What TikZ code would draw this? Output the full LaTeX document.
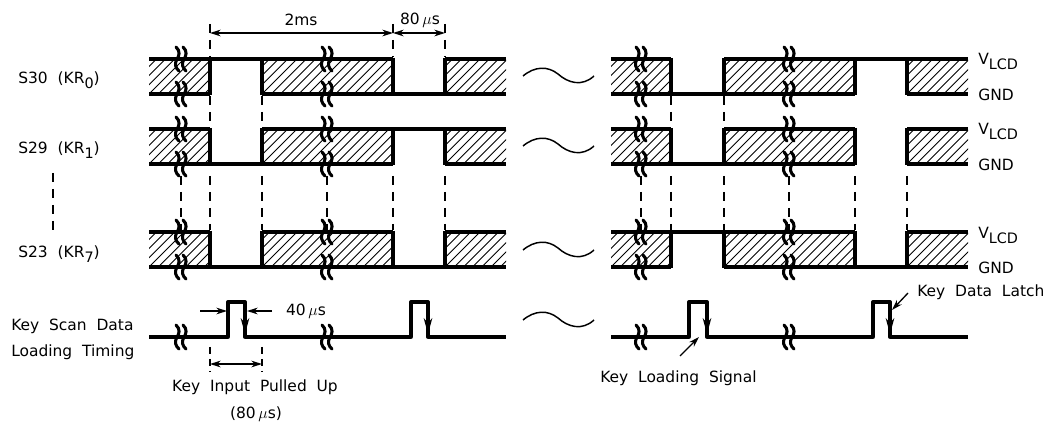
\documentclass[tikz,border=0pt]{standalone}
\usepackage{fontspec}
\setmainfont{DejaVu Sans}
\usetikzlibrary{arrows.meta}
\tikzset{
  x=0.75pt,y=-0.75pt,
  sig/.style={line width=2.5pt,line cap=butt,line join=miter},
  vert/.style={line width=2.3pt},
  dsh/.style={line width=1.1pt,dash pattern=on 6.5pt off 5.5pt},
  dim/.style={line width=1pt,{Stealth[length=8pt,width=5pt]}-{Stealth[length=8pt,width=5pt]}},
  lead/.style={line width=1pt,-{Stealth[length=8pt,width=5pt]}},
  lab/.style={inner sep=0pt,font=\fontsize{11.6}{13}\selectfont},
  brk/.style={line width=2.3pt,line cap=round},
}
% hatch between x1,x2 in a row with top y3
\newcommand{\hatchbox}[3]{%
  \begin{scope}
    \clip (#1,#3) rectangle (#2,#3+35);
    \foreach \k in {-8,...,18} {\draw[line width=0.65pt] ({#1+\k*9.2},#3+35) -- ++(35,-35);}
  \end{scope}}
\newcommand{\brkmark}[2]{%
  \foreach \d in {-3.5,3.5}{
  \draw[brk] ({#1+\d-1.5},#2-12) .. controls ({#1+\d+3},#2-8) and ({#1+\d+2},#2-3) .. ({#1+\d-1},#2+1)
     .. controls ({#1+\d-3},#2+5) and ({#1+\d-2},#2+9) .. ({#1+\d+1.5},#2+12);}}
\newcommand{\tildemark}[1]{%
  \draw[line width=1.1pt] (523,#1) .. controls (535,#1-10) and (548,#1-10) .. (558,#1-2)
     .. controls (568,#1+7) and (582,#1+11) .. (594,#1);}
\newcommand{\mus}{\ensuremath{\mu}s}
\newcommand{\lowsub}[1]{\raisebox{-0.32em}{\fontsize{10.8}{12}\selectfont #1}}
\begin{document}
\begin{tikzpicture}
\useasboundingbox (0,0) rectangle (1049,423);
% hatching
\foreach \t in {59,129,232}{
  \hatchbox{149}{210}{\t}\hatchbox{262}{393}{\t}\hatchbox{445}{506}{\t}
  \hatchbox{611}{671}{\t}\hatchbox{724}{855}{\t}\hatchbox{907}{968}{\t}
}
% dashed guides
\foreach \x in {210,393,445}{\draw[dsh] (\x,24) -- (\x,57);}
\foreach \x in {210,262,671,724}{\draw[dsh] (\x,96) -- (\x,127);}
\foreach \x in {181,210,262,327,393,445,641,671,724,789,855,907}{\draw[dsh] (\x,176) -- (\x,230);}
\draw[dsh] (53,173) -- (53,232);
\draw[dsh,dash pattern=on 5pt off 4pt] (210,347) -- (210,372);
\draw[dsh,dash pattern=on 5pt off 4pt] (262,347) -- (262,372);
% S30
\draw[sig] (149,59) -- (393,59) (445,59) -- (506,59) (149,94) -- (210,94) (262,94) -- (506,94);
\draw[sig] (611,59) -- (671,59) (611,94) -- (724,94) (724,59) -- (968,59) (724,94) -- (855,94) (907,94) -- (968,94);
% S29
\draw[sig] (149,129) -- (210,129) (262,129) -- (506,129) (149,164) -- (393,164) (445,164) -- (506,164);
\draw[sig] (611,129) -- (671,129) (611,164) -- (855,164) (724,129) -- (855,129) (907,129) -- (968,129) (907,164) -- (968,164);
% S23
\draw[sig] (149,232) -- (210,232) (262,232) -- (393,232) (445,232) -- (506,232) (149,267) -- (506,267);
\draw[sig] (611,232) -- (855,232) (907,232) -- (968,232) (611,267) -- (671,267) (724,267) -- (968,267);
% verticals
\foreach \t in {59,129,232}{
  \foreach \x in {210,262,393,445,671,724,855,907}{\draw[vert] (\x,\t-1) -- (\x,\t+36);}
}
% key waveform
\draw[sig,line join=round] (149,337) -- (228,337) -- (228,302) -- (245,302) -- (245,337) -- (411,337) -- (411,302) -- (428,302) -- (428,337) -- (506,337);
\draw[sig,line join=round] (611,337) -- (689,337) -- (689,302) -- (707,302) -- (707,337) -- (873,337) -- (873,302) -- (890,302) -- (890,337) -- (968,337);
% falling edge arrows
\foreach \x in {245,428,707,890}{
  \coordinate (fa\x) at (\x,316); \coordinate (fb\x) at (\x,334);
  \draw[lead,-{Stealth[length=12pt,width=6.5pt]}] (fa\x) -- (fb\x);}
% break marks
\foreach \x in {181,327,641,789}{
  \foreach \y in {59,94,129,164,232,267,337}{\brkmark{\x}{\y}}
}
% tildes
\tildemark{76}\tildemark{146}\tildemark{250}\tildemark{320}
% dimensions
\coordinate (d1) at (210,33); \coordinate (d2) at (393,33); \coordinate (d3) at (445,33);
\draw[dim] (d1) -- (d2);
\draw[dim] (d2) -- (d3);
\coordinate (k1) at (210,364); \coordinate (k2) at (262,364);
\draw[dim] (k1) -- (k2);
\coordinate (w1) at (200,311); \coordinate (w1e) at (227,311);
\coordinate (w2) at (272,311); \coordinate (w2e) at (247,311);
\draw[lead] (w1) -- (w1e);
\draw[lead] (w2) -- (w2e);
\coordinate (ls) at (680,356); \coordinate (le) at (699,337);
\draw[lead] (ls) -- (le);
\coordinate (ds) at (908,293); \coordinate (de) at (892,310);
\draw[lead] (ds) -- (de);
% labels
\node[lab,anchor=center] (t2ms) at (301,20) {2ms};
\node[lab,anchor=center] (t80) at (420,20) {80\,\mus};
\node[lab,anchor=base west] (s30) at (18,84) {S30\ \ (KR\lowsub{0})};
\node[lab,anchor=base west] (s29) at (18,154) {S29\ \ (KR\lowsub{1})};
\node[lab,anchor=base west] (s23) at (18,258) {S23\ \ (KR\lowsub{7})};
\foreach \t/\g/\n in {65/101/a,135/171/b,239/274/c}{
  \node[lab,anchor=base west] (v\n) at (978,\t) {V\lowsub{LCD}};
  \node[lab,anchor=base west] (g\n) at (978,\g) {GND};
}
\node[lab,anchor=west] (ks) at (11,326) {Key\ \ Scan\ \ Data};
\node[lab,anchor=west] (lt) at (11,352) {Loading\ \ Timing};
\node[lab,anchor=center] (t40) at (306,311) {40\,\mus};
\node[lab,anchor=center] (kip) at (255,387) {Key\ \ Input\ \ Pulled\ \ Up};
\node[lab,anchor=center] (t80b) at (256,414) {(80\,\mus)};
\node[lab,anchor=west] (kls) at (600,378) {Key\ \ Loading\ \ Signal};
\node[lab,anchor=west] (kdl) at (917,292) {Key\ \ Data\ \ Latch};
\end{tikzpicture}
\end{document}
